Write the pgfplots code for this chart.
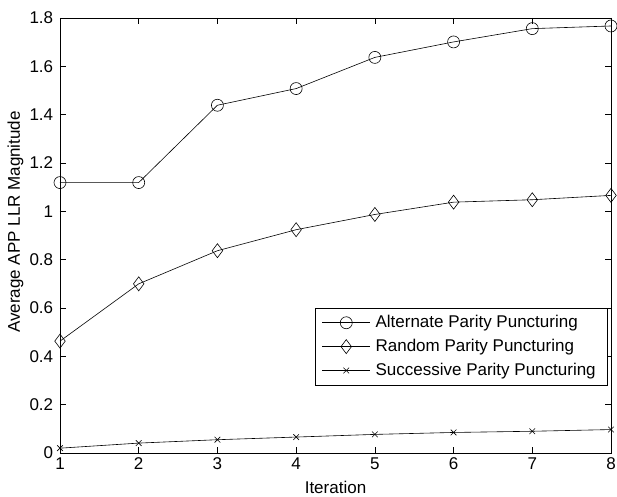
\documentclass[border=0pt]{standalone}
\usepackage{pgfplots}
\pgfplotsset{compat=1.18}
\usepackage{fontspec}
\setmainfont{Liberation Sans}
\begin{document}
\fontsize{17}{20}\selectfont
\begin{tikzpicture}
\begin{axis}[
  at={(0pt,0pt)}, anchor=south west,
  scale only axis,
  width=551pt, height=435pt,
  xmin=1, xmax=8, ymin=0, ymax=1.8,
  xtick={1,2,...,8},
  ytick={0,0.2,...,1.8},
  yticklabels={0,0.2,0.4,0.6,0.8,1,1.2,1.4,1.6,1.8},
  tick align=inside,
  major tick length=6pt,
  axis line style={line width=0.9pt},
  tick style={black, line width=0.7pt},
  /pgf/number format/assume math mode=true,
  tick label style={font=\fontsize{17}{20}\selectfont},
  xticklabel style={yshift=1pt},
  yticklabel style={xshift=-1pt},
  label style={font=\fontsize{17}{20}\selectfont},
  xlabel={Iteration},
  ylabel={Average APP LLR Magnitude},
  xlabel style={at={(axis description cs:0.5,-0.078)}, anchor=center},
  ylabel style={at={(axis description cs:-0.0808,0.531)}, anchor=center},
  legend style={at={(0.9946,0.3333)}, anchor=north east, draw=black, line width=0.6pt, fill=white,
    font=\fontsize{17}{20}\selectfont, row sep=5pt, inner xsep=7pt, inner ysep=5pt,
    nodes={inner xsep=5pt}},
  legend cell align=left,
  legend image code/.code={\draw[mark repeat=2,mark phase=2] plot coordinates {(0pt,0pt) (24pt,0pt) (48pt,0pt)};},
  clip=false,
]
\addplot[black, line width=0.6pt, mark=o, mark size=6pt, mark options={line width=0.6pt}] coordinates {
(1,1.119) (2,1.119) (3,1.439) (4,1.508) (5,1.637) (6,1.701) (7,1.756) (8,1.767)};
\addlegendentry{Alternate Parity Puncturing}
\addplot[black, line width=0.6pt, mark=diamond, mark size=7pt, mark options={line width=0.6pt}] coordinates {
(1,0.463) (2,0.700) (3,0.837) (4,0.924) (5,0.987) (6,1.038) (7,1.048) (8,1.066)};
\addlegendentry{Random Parity Puncturing}
\addplot[black, line width=0.6pt, mark=x, mark size=4pt, mark options={line width=0.6pt}] coordinates {
(1,0.020) (2,0.041) (3,0.055) (4,0.066) (5,0.077) (6,0.085) (7,0.090) (8,0.097)};
\addlegendentry{Successive Parity Puncturing}
\end{axis}
\pgfresetboundingbox
\path (-60pt,-43pt) rectangle (557pt,453pt);
\end{tikzpicture}
\end{document}
